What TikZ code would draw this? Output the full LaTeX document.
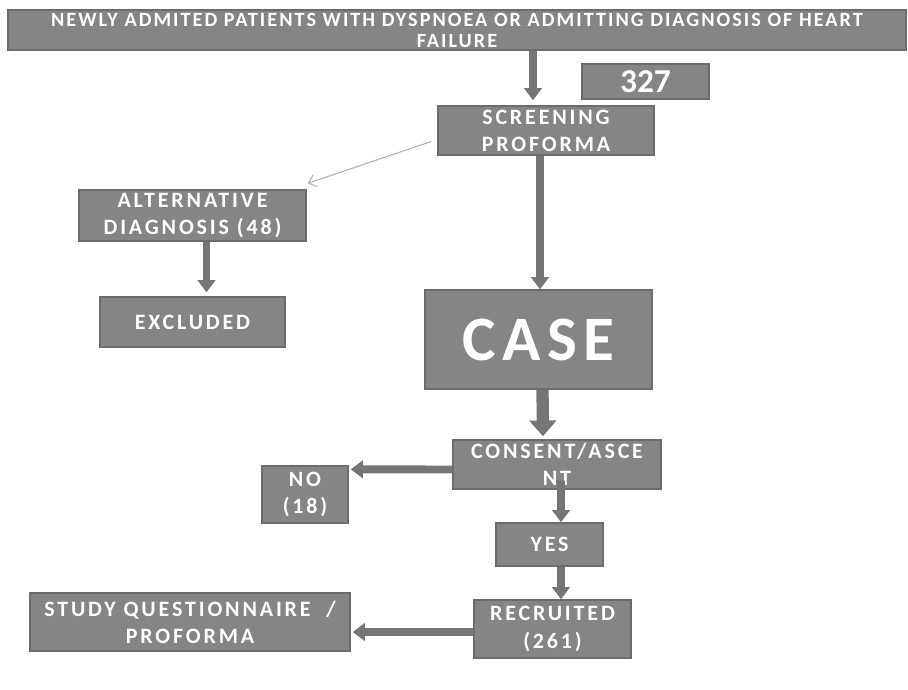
\documentclass[tikz,border=0pt]{standalone}
\usepackage{fontspec}
\setmainfont{Carlito}
\newfontfamily\spacedfont[LetterSpace=13]{Carlito}
\newfontfamily\headfont[LetterSpace=10]{Carlito}
\newfontfamily\widefont[LetterSpace=10]{Carlito}
\usepackage{xcolor}
\usepackage{tikz}
\usetikzlibrary{arrows.meta,positioning,calc}
\definecolor{boxgray}{RGB}{133,133,133}
\definecolor{edgegray}{RGB}{108,108,108}
\definecolor{arrowgray}{RGB}{118,118,118}
\definecolor{thingray}{RGB}{175,175,175}

\begin{document}
\begin{tikzpicture}[x=0.02cm, y=-0.02cm,
    flowbox/.style={draw=edgegray, fill=boxgray, line width=0.8pt, text=white,
        align=center, inner sep=0pt,
        font=\spacedfont\bfseries\fontsize{12.5}{15.5}\selectfont},
    bigarrow/.style={draw=arrowgray, line width=4.5pt,
        -{Triangle[width=10pt,length=7pt]}},
    hugearrow/.style={draw=arrowgray, line width=7pt,
        -{Triangle[width=15pt,length=9pt]}},
    thinarrow/.style={draw=thingray, line width=0.6pt,
        -{Straight Barb[length=4pt,width=7pt]}}]
    \useasboundingbox (0,0) rectangle (908,689);

    % boxes
    \node[flowbox, minimum width=17.96cm, minimum height=0.80cm,
        font=\headfont\bfseries\fontsize{11.5}{12}\selectfont] (admit) at (457,30)
        {NEWLY ADMITED PATIENTS WITH DYSPNOEA OR ADMITTING DIAGNOSIS OF HEART\\FAILURE};
    \node[flowbox, minimum width=2.54cm, minimum height=0.70cm,
        font=\bfseries\fontsize{19}{20}\selectfont] (count) at (645.5,81.5) {327};
    \node[flowbox, minimum width=4.32cm, minimum height=0.98cm] (scr) at (546,130.5)
        {SCREENING\\PROFORMA};
    \node[flowbox, minimum width=4.54cm, minimum height=1.02cm] (alt) at (192.5,215.5)
        {ALTERNATIVE\\DIAGNOSIS (48)};
    \node[flowbox, minimum width=3.70cm, minimum height=1.00cm] (excl) at (192.5,322)
        {EXCLUDED};
    \node[flowbox, minimum width=4.54cm, minimum height=1.98cm,
        font=\widefont\bfseries\fontsize{36}{38}\selectfont] (case) at (538.5,339.5) {CASE};
    \node[flowbox, minimum width=4.16cm, minimum height=0.98cm] (cons) at (557,464.5)
        {CONSENT/ASCE\\NT};
    \node[flowbox, minimum width=1.72cm, minimum height=1.14cm] (no) at (305,494.5)
        {NO\\(18)};
    \node[flowbox, minimum width=2.14cm, minimum height=0.86cm] (yes) at (549.5,544.5)
        {YES};
    \node[flowbox, minimum width=3.14cm, minimum height=1.16cm] (rec) at (552.5,629)
        {RECRUITED\\(261)};
    \node[flowbox, minimum width=6.40cm, minimum height=1.16cm] (study) at (190,622)
        {STUDY QUESTIONNAIRE \ /\\PROFORMA};

    % arrows
    \draw[bigarrow] ($(scr.north |- admit.south)+(-13,0)$) -- ($(scr.north)+(-13,-5)$);
    \draw[thinarrow] ($(scr.west)+(-6,11)$) -- ($(alt.north east)+(1,-6)$);
    \draw[bigarrow] ($(scr.south)+(-6,0)$) -- ($(case.north)+(1.5,0)$);
    \draw[bigarrow] ($(alt.south)+(14,0)$) -- ($(excl.north)+(14,-4)$);
    \draw[hugearrow] ($(case.south)+(4,0)$) -- ($(cons.north)+(-14,-3)$);
    \draw[bigarrow] ($(cons.west)+(0,5)$) -- ($(no.north east)+(2,4)$);
    \draw[bigarrow] ($(cons.south)+(4,-9)$) -- ($(yes.north)+(11.5,0)$);
    \draw[bigarrow] ($(yes.south)+(11.5,0)$) -- ($(rec.north)+(8.5,0)$);
    \draw[bigarrow] ($(rec.west)+(0,3)$) -- ($(study.east)+(2,10)$);
\end{tikzpicture}
\end{document}
